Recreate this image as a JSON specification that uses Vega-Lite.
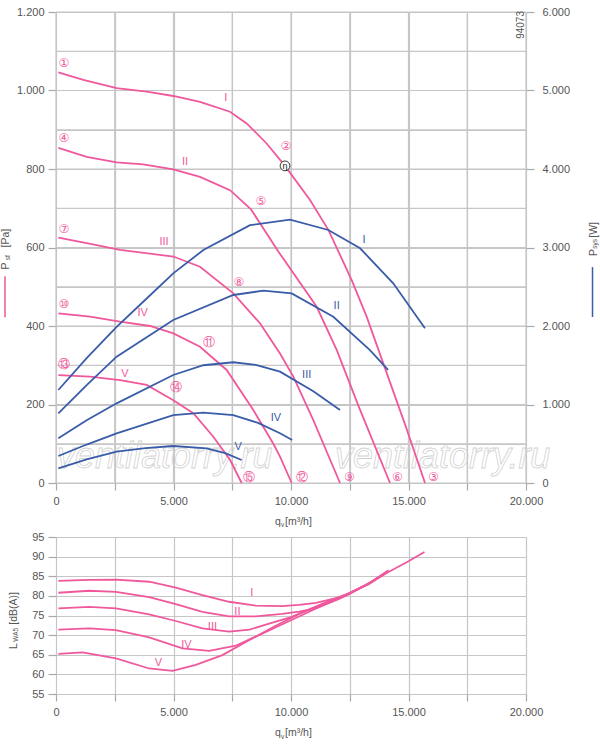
{
  "$schema": "https://vega.github.io/schema/vega-lite/v6.json",
  "background": "white",
  "padding": {"left": 0, "top": 6, "right": 0, "bottom": 0},
  "autosize": {"type": "pad"},
  "bounds": "flush",
  "spacing": 54,
  "config": {
    "view": {"stroke": null},
    "font": "Liberation Sans",
    "axis": {
      "labelFont": "Liberation Sans",
      "labelFontSize": 11,
      "labelColor": "#555555",
      "gridColor": "#c6c6c6",
      "gridWidth": 1.2,
      "tickColor": "#a8a8a8",
      "tickWidth": 1.2,
      "domain": false
    },
    "text": {"font": "Liberation Sans"}
  },
  "datasets": {
    "gridv": [
      {"q": 0, "p": 0, "p2": 1200}, {"q": 2500, "p": 0, "p2": 1200}, {"q": 5000, "p": 0, "p2": 1200},
      {"q": 7500, "p": 0, "p2": 1200}, {"q": 10000, "p": 0, "p2": 1200}, {"q": 12500, "p": 0, "p2": 1200},
      {"q": 15000, "p": 0, "p2": 1200}, {"q": 17500, "p": 0, "p2": 1200}, {"q": 20000, "p": 0, "p2": 1200}
    ],
    "gridh": [
      {"p": 0, "q": 0, "q2": 20000}, {"p": 100, "q": 0, "q2": 20000}, {"p": 200, "q": 0, "q2": 20000},
      {"p": 300, "q": 0, "q2": 20000}, {"p": 400, "q": 0, "q2": 20000}, {"p": 500, "q": 0, "q2": 20000},
      {"p": 600, "q": 0, "q2": 20000}, {"p": 700, "q": 0, "q2": 20000}, {"p": 800, "q": 0, "q2": 20000},
      {"p": 900, "q": 0, "q2": 20000}, {"p": 1000, "q": 0, "q2": 20000}, {"p": 1100, "q": 0, "q2": 20000},
      {"p": 1200, "q": 0, "q2": 20000}
    ],
    "pressure": [
      {"curve": "I", "q": 100, "p": 1046}, {"curve": "I", "q": 1163, "p": 1027}, {"curve": "I", "q": 2582, "p": 1006},
      {"curve": "I", "q": 3858, "p": 997}, {"curve": "I", "q": 4993, "p": 986}, {"curve": "I", "q": 6128, "p": 971},
      {"curve": "I", "q": 7404, "p": 946}, {"curve": "I", "q": 8113, "p": 916}, {"curve": "I", "q": 8964, "p": 865},
      {"curve": "I", "q": 9745, "p": 808}, {"curve": "I", "q": 10809, "p": 721}, {"curve": "I", "q": 11590, "p": 645},
      {"curve": "I", "q": 12582, "p": 517}, {"curve": "I", "q": 13220, "p": 424}, {"curve": "I", "q": 14014, "p": 290},
      {"curve": "I", "q": 14860, "p": 148}, {"curve": "I", "q": 15702, "p": 0},
      {"curve": "II", "q": 100, "p": 854}, {"curve": "II", "q": 1305, "p": 831}, {"curve": "II", "q": 2582, "p": 817},
      {"curve": "II", "q": 3716, "p": 812}, {"curve": "II", "q": 4993, "p": 799}, {"curve": "II", "q": 6128, "p": 780},
      {"curve": "II", "q": 7404, "p": 746}, {"curve": "II", "q": 8300, "p": 697}, {"curve": "II", "q": 9460, "p": 590},
      {"curve": "II", "q": 11093, "p": 449}, {"curve": "II", "q": 11944, "p": 339}, {"curve": "II", "q": 12900, "p": 192},
      {"curve": "II", "q": 14213, "p": 0},
      {"curve": "III", "q": 100, "p": 625}, {"curve": "III", "q": 1305, "p": 611}, {"curve": "III", "q": 2723, "p": 594},
      {"curve": "III", "q": 4993, "p": 577}, {"curve": "III", "q": 6128, "p": 551}, {"curve": "III", "q": 7545, "p": 483},
      {"curve": "III", "q": 8680, "p": 407}, {"curve": "III", "q": 9532, "p": 330}, {"curve": "III", "q": 10099, "p": 271},
      {"curve": "III", "q": 10950, "p": 160}, {"curve": "III", "q": 12085, "p": 0},
      {"curve": "IV", "q": 100, "p": 432}, {"curve": "IV", "q": 1447, "p": 424}, {"curve": "IV", "q": 2723, "p": 411},
      {"curve": "IV", "q": 4000, "p": 400}, {"curve": "IV", "q": 4993, "p": 381}, {"curve": "IV", "q": 6128, "p": 347},
      {"curve": "IV", "q": 7262, "p": 288}, {"curve": "IV", "q": 8397, "p": 186}, {"curve": "IV", "q": 9248, "p": 100},
      {"curve": "IV", "q": 9532, "p": 67}, {"curve": "IV", "q": 10030, "p": 0},
      {"curve": "V", "q": 100, "p": 275}, {"curve": "V", "q": 1447, "p": 271}, {"curve": "V", "q": 2723, "p": 262},
      {"curve": "V", "q": 3858, "p": 250}, {"curve": "V", "q": 4993, "p": 211}, {"curve": "V", "q": 5843, "p": 178},
      {"curve": "V", "q": 6695, "p": 118}, {"curve": "V", "q": 7404, "p": 59}, {"curve": "V", "q": 7900, "p": 0}
    ],
    "power": [
      {"curve": "I", "q": 100, "w": 1185}, {"curve": "I", "q": 1305, "w": 1590}, {"curve": "I", "q": 2580, "w": 1990},
      {"curve": "I", "q": 3858, "w": 2350}, {"curve": "I", "q": 4990, "w": 2671}, {"curve": "I", "q": 6270, "w": 2968},
      {"curve": "I", "q": 8255, "w": 3285}, {"curve": "I", "q": 9960, "w": 3355}, {"curve": "I", "q": 11590, "w": 3223},
      {"curve": "I", "q": 12940, "w": 2990}, {"curve": "I", "q": 14350, "w": 2544}, {"curve": "I", "q": 15700, "w": 1970},
      {"curve": "II", "q": 100, "w": 888}, {"curve": "II", "q": 1305, "w": 1248}, {"curve": "II", "q": 2580, "w": 1609},
      {"curve": "II", "q": 4990, "w": 2076}, {"curve": "II", "q": 7545, "w": 2395}, {"curve": "II", "q": 8820, "w": 2450},
      {"curve": "II", "q": 10030, "w": 2416}, {"curve": "II", "q": 11800, "w": 2118}, {"curve": "II", "q": 13360, "w": 1694},
      {"curve": "II", "q": 14130, "w": 1440},
      {"curve": "III", "q": 100, "w": 569}, {"curve": "III", "q": 1305, "w": 800}, {"curve": "III", "q": 2580, "w": 1015},
      {"curve": "III", "q": 4990, "w": 1376}, {"curve": "III", "q": 6270, "w": 1500}, {"curve": "III", "q": 7545, "w": 1538},
      {"curve": "III", "q": 8500, "w": 1505}, {"curve": "III", "q": 9532, "w": 1418}, {"curve": "III", "q": 10950, "w": 1170},
      {"curve": "III", "q": 12085, "w": 930},
      {"curve": "IV", "q": 100, "w": 344}, {"curve": "IV", "q": 1305, "w": 490}, {"curve": "IV", "q": 2580, "w": 633},
      {"curve": "IV", "q": 4990, "w": 866}, {"curve": "IV", "q": 6270, "w": 896}, {"curve": "IV", "q": 7545, "w": 866},
      {"curve": "IV", "q": 8600, "w": 765}, {"curve": "IV", "q": 9532, "w": 633}, {"curve": "IV", "q": 10050, "w": 548},
      {"curve": "V", "q": 100, "w": 187}, {"curve": "V", "q": 1305, "w": 300}, {"curve": "V", "q": 2580, "w": 399},
      {"curve": "V", "q": 3800, "w": 445}, {"curve": "V", "q": 4990, "w": 471}, {"curve": "V", "q": 6410, "w": 442},
      {"curve": "V", "q": 7200, "w": 380}, {"curve": "V", "q": 7900, "w": 293}
    ],
    "sound": [
      {"curve": "I", "q": 100, "db": 83.8}, {"curve": "I", "q": 1400, "db": 84.1}, {"curve": "I", "q": 2550, "db": 84.15},
      {"curve": "I", "q": 3966, "db": 83.6}, {"curve": "I", "q": 5100, "db": 82.1}, {"curve": "I", "q": 6230, "db": 80.2},
      {"curve": "I", "q": 7365, "db": 78.5}, {"curve": "I", "q": 8500, "db": 77.5}, {"curve": "I", "q": 9630, "db": 77.4},
      {"curve": "I", "q": 10340, "db": 77.7}, {"curve": "I", "q": 11060, "db": 78.2}, {"curve": "I", "q": 12050, "db": 79.6},
      {"curve": "I", "q": 12470, "db": 80.5}, {"curve": "I", "q": 13300, "db": 83.2}, {"curve": "I", "q": 14150, "db": 86.1},
      {"curve": "I", "q": 15000, "db": 88.8}, {"curve": "I", "q": 15680, "db": 91.2},
      {"curve": "II", "q": 100, "db": 80.8}, {"curve": "II", "q": 1416, "db": 81.3}, {"curve": "II", "q": 2550, "db": 81.0},
      {"curve": "II", "q": 3966, "db": 79.7}, {"curve": "II", "q": 5100, "db": 77.9}, {"curve": "II", "q": 6230, "db": 75.9},
      {"curve": "II", "q": 7365, "db": 74.8}, {"curve": "II", "q": 8500, "db": 74.8}, {"curve": "II", "q": 9630, "db": 75.4},
      {"curve": "II", "q": 10340, "db": 76.0}, {"curve": "II", "q": 11060, "db": 76.8}, {"curve": "II", "q": 12050, "db": 79.2},
      {"curve": "II", "q": 12470, "db": 80.4}, {"curve": "II", "q": 13300, "db": 83.1}, {"curve": "II", "q": 14150, "db": 86.5},
      {"curve": "III", "q": 100, "db": 76.8}, {"curve": "III", "q": 1416, "db": 77.2}, {"curve": "III", "q": 2550, "db": 76.8},
      {"curve": "III", "q": 3966, "db": 75.3}, {"curve": "III", "q": 5100, "db": 73.6}, {"curve": "III", "q": 6230, "db": 71.7},
      {"curve": "III", "q": 7365, "db": 70.9}, {"curve": "III", "q": 8235, "db": 71.4}, {"curve": "III", "q": 9000, "db": 72.8},
      {"curve": "III", "q": 10000, "db": 74.6}, {"curve": "III", "q": 11000, "db": 77.0}, {"curve": "III", "q": 12330, "db": 80.3},
      {"curve": "III", "q": 13300, "db": 83.1}, {"curve": "III", "q": 14100, "db": 86.2},
      {"curve": "IV", "q": 100, "db": 71.4}, {"curve": "IV", "q": 1416, "db": 71.7}, {"curve": "IV", "q": 2550, "db": 71.3},
      {"curve": "IV", "q": 3966, "db": 69.4}, {"curve": "IV", "q": 5382, "db": 66.6}, {"curve": "IV", "q": 6516, "db": 66.0},
      {"curve": "IV", "q": 7650, "db": 67.3}, {"curve": "IV", "q": 8235, "db": 68.9}, {"curve": "IV", "q": 9000, "db": 71.0},
      {"curve": "IV", "q": 10000, "db": 73.8}, {"curve": "IV", "q": 11000, "db": 76.6}, {"curve": "IV", "q": 12330, "db": 80.3},
      {"curve": "IV", "q": 13300, "db": 83.0}, {"curve": "IV", "q": 14050, "db": 85.8},
      {"curve": "V", "q": 100, "db": 65.2}, {"curve": "V", "q": 1133, "db": 65.6}, {"curve": "V", "q": 2550, "db": 64.1},
      {"curve": "V", "q": 3966, "db": 61.5}, {"curve": "V", "q": 4958, "db": 60.9}, {"curve": "V", "q": 5950, "db": 62.4},
      {"curve": "V", "q": 7080, "db": 64.9}, {"curve": "V", "q": 8215, "db": 68.7}, {"curve": "V", "q": 9350, "db": 72.4},
      {"curve": "V", "q": 10340, "db": 75.4}, {"curve": "V", "q": 11300, "db": 77.9}, {"curve": "V", "q": 12330, "db": 80.3},
      {"curve": "V", "q": 13300, "db": 83.0}, {"curve": "V", "q": 14050, "db": 85.8}
    ],
    "plab": [
      {"t": "I", "q": 7220, "p": 980}, {"t": "II", "q": 5489, "p": 819}, {"t": "III", "q": 4596, "p": 613},
      {"t": "IV", "q": 3688, "p": 432}, {"t": "V", "q": 2936, "p": 278}
    ],
    "circ": [
      {"t": "①", "q": 340, "p": 1070}, {"t": "②", "q": 9787, "p": 859}, {"t": "③", "q": 16057, "p": 16},
      {"t": "④", "q": 340, "p": 879}, {"t": "⑤", "q": 8723, "p": 719}, {"t": "⑥", "q": 14525, "p": 16},
      {"t": "⑦", "q": 340, "p": 648}, {"t": "⑧", "q": 7787, "p": 512}, {"t": "⑨", "q": 12482, "p": 16},
      {"t": "⑩", "q": 340, "p": 455}, {"t": "⑪", "q": 6511, "p": 358}, {"t": "⑫", "q": 10454, "p": 16},
      {"t": "⑬", "q": 340, "p": 302}, {"t": "⑭", "q": 5106, "p": 244}, {"t": "⑮", "q": 8226, "p": 16}
    ],
    "eta": [{"t": "η", "q": 9745, "p": 808}],
    "wlab": [
      {"t": "I", "q": 13106, "w": 3096}, {"t": "II", "q": 11943, "w": 2259}, {"t": "III", "q": 10667, "w": 1376},
      {"t": "IV", "q": 9362, "w": 824}, {"t": "V", "q": 7757, "w": 462}
    ],
    "slab": [
      {"t": "I", "q": 8329, "db": 80.85}, {"t": "II", "q": 7720, "db": 75.9}, {"t": "III", "q": 6657, "db": 72.1},
      {"t": "IV", "q": 5552, "db": 67.6}, {"t": "V", "q": 4363, "db": 62.8}
    ],
    "watermark": [
      {"t": "ventilatorry.ru", "q": 43, "p": 38}, {"t": "ventilatorry.ru", "q": 11872, "p": 38}
    ],
    "code": [{"t": "94073", "q": 19787, "p": 1167}],
    "toptitles": [
      {"t": "P", "q": -2130, "p": 553}, {"t": "[Pa]", "q": -2130, "p": 624},
      {"t": "P", "q": 22894, "p": 587}, {"t": "[W]", "q": 22894, "p": 645}
    ],
    "topsubs": [
      {"t": "sf", "q": -2040, "p": 574}, {"t": "sys", "q": 22950, "p": 609}
    ],
    "topx": [{"t": "q", "q": 9319, "p": -98.6}, {"t": "[m³/h]", "q": 9745, "p": -98.6}],
    "topxsub": [{"t": "v", "q": 9574, "p": -107}],
    "pinkkey": [{"q": -2170, "p": 527, "p2": 422}],
    "bluekey": [{"q": 22830, "p": 550, "p2": 423}],
    "bottitles": [{"t": "L", "q": -1800, "db": 67.2}, {"t": "[dB(A)]", "q": -1800, "db": 76.8}],
    "botsubs": [{"t": "WA5", "q": -1681, "db": 70.1}],
    "botx": [{"t": "q", "q": 9319, "db": 45.0}, {"t": "[m³/h]", "q": 9745, "db": 45.0}],
    "botxsub": [{"t": "v", "q": 9574, "db": 44.1}]
  },
  "vconcat": [
    {
      "width": 470,
      "height": 471,
      "resolve": {"scale": {"y": "independent"}},
      "encoding": {
        "x": {
          "field": "q", "type": "quantitative", "scale": {"domain": [0, 20000], "nice": false},
          "axis": {
            "values": [0, 2500, 5000, 7500, 10000, 12500, 15000, 17500, 20000],
            "labelExpr": "datum.value % 5000 === 0 ? replace(format(datum.value, ','), ',', '.') : ''",
            "title": null, "grid": true, "tickSize": 7, "labelPadding": 5, "labelOverlap": false, "labelFlush": false
          }
        }
      },
      "layer": [
        {
          "data": {"name": "gridv"},
          "mark": {"type": "rule", "color": "#c6c6c6", "strokeWidth": 1.2},
          "encoding": {
            "y": {"field": "p", "type": "quantitative", "scale": {"domain": [0, 1200], "nice": false}, "axis": null},
            "y2": {"field": "p2"}
          }
        },
        {
          "data": {"name": "gridh"},
          "mark": {"type": "rule", "color": "#c6c6c6", "strokeWidth": 1.2},
          "encoding": {
            "y": {"field": "p", "type": "quantitative", "scale": {"domain": [0, 1200], "nice": false}, "axis": null},
            "x2": {"field": "q2"}
          }
        },
        {
          "data": {"name": "watermark"},
          "mark": {"type": "text", "align": "left", "baseline": "alphabetic", "fontSize": 36, "fontStyle": "italic", "fill": "transparent", "stroke": "#d2d2d2", "strokeWidth": 0.8},
          "encoding": {
            "y": {"field": "p", "type": "quantitative", "scale": {"domain": [0, 1200], "nice": false}, "axis": null},
            "text": {"field": "t"}
          }
        },
        {
          "data": {"name": "pressure"},
          "mark": {"type": "line", "color": "#f0589c", "strokeWidth": 1.8},
          "encoding": {
            "y": {
              "field": "p", "type": "quantitative", "scale": {"domain": [0, 1200], "nice": false},
              "axis": {
                "orient": "left",
                "values": [0, 100, 200, 300, 400, 500, 600, 700, 800, 900, 1000, 1100, 1200],
                "labelExpr": "datum.value % 200 === 0 ? replace(format(datum.value, ','), ',', '.') : ''",
                "tickOpacity": {"condition": {"test": "datum.value % 200 === 0", "value": 1}, "value": 0},
                "title": null, "grid": true, "tickSize": 8, "labelPadding": 4, "labelOverlap": false, "labelFlush": false
              }
            },
            "detail": {"field": "curve"}
          }
        },
        {
          "data": {"name": "power"},
          "mark": {"type": "line", "color": "#3a5ca8", "strokeWidth": 1.8},
          "encoding": {
            "y": {
              "field": "w", "type": "quantitative", "scale": {"domain": [0, 6000], "nice": false},
              "axis": {
                "orient": "right",
                "values": [0, 1000, 2000, 3000, 4000, 5000, 6000],
                "labelExpr": "replace(format(datum.value, ','), ',', '.')",
                "title": null, "grid": false, "tickSize": 8, "labelPadding": 8, "labelOverlap": false, "labelFlush": false
              }
            },
            "detail": {"field": "curve"}
          }
        },
        {
          "data": {"name": "pinkkey"},
          "mark": {"type": "rule", "color": "#f0589c", "strokeWidth": 1.5},
          "encoding": {
            "y": {"field": "p", "type": "quantitative", "scale": {"domain": [0, 1200], "nice": false}, "axis": null},
            "y2": {"field": "p2"}
          }
        },
        {
          "data": {"name": "bluekey"},
          "mark": {"type": "rule", "color": "#3a5ca8", "strokeWidth": 1.5},
          "encoding": {
            "y": {"field": "p", "type": "quantitative", "scale": {"domain": [0, 1200], "nice": false}, "axis": null},
            "y2": {"field": "p2"}
          }
        },
        {
          "data": {"name": "plab"},
          "mark": {"type": "text", "color": "#f0589c", "fontSize": 11, "align": "center", "baseline": "middle"},
          "encoding": {
            "y": {"field": "p", "type": "quantitative", "scale": {"domain": [0, 1200], "nice": false}, "axis": null},
            "text": {"field": "t"}
          }
        },
        {
          "data": {"name": "circ"},
          "mark": {"type": "text", "color": "#f0589c", "fontSize": 12, "font": "DejaVu Sans", "align": "center", "baseline": "middle"},
          "encoding": {
            "y": {"field": "p", "type": "quantitative", "scale": {"domain": [0, 1200], "nice": false}, "axis": null},
            "text": {"field": "t"}
          }
        },
        {
          "data": {"name": "eta"},
          "mark": {"type": "point", "shape": "circle", "size": 95, "filled": true, "fill": "white", "stroke": "#222222", "strokeWidth": 0.9, "opacity": 1},
          "encoding": {
            "y": {"field": "p", "type": "quantitative", "scale": {"domain": [0, 1200], "nice": false}, "axis": null}
          }
        },
        {
          "data": {"name": "eta"},
          "mark": {"type": "text", "color": "#222222", "fontSize": 9, "align": "center", "baseline": "middle"},
          "encoding": {
            "y": {"field": "p", "type": "quantitative", "scale": {"domain": [0, 1200], "nice": false}, "axis": null},
            "text": {"field": "t"}
          }
        },
        {
          "data": {"name": "wlab"},
          "mark": {"type": "text", "color": "#3a5ca8", "fontSize": 11, "align": "center", "baseline": "middle"},
          "encoding": {
            "y": {"field": "w", "type": "quantitative", "scale": {"domain": [0, 6000], "nice": false}, "axis": null},
            "text": {"field": "t"}
          }
        },
        {
          "data": {"name": "code"},
          "mark": {"type": "text", "color": "#555555", "fontSize": 10, "angle": 270, "align": "center", "baseline": "middle"},
          "encoding": {
            "y": {"field": "p", "type": "quantitative", "scale": {"domain": [0, 1200], "nice": false}, "axis": null},
            "text": {"field": "t"}
          }
        },
        {
          "data": {"name": "toptitles"},
          "mark": {"type": "text", "color": "#555555", "fontSize": 10.5, "angle": 270, "align": "center", "baseline": "middle"},
          "encoding": {
            "y": {"field": "p", "type": "quantitative", "scale": {"domain": [0, 1200], "nice": false}, "axis": null},
            "text": {"field": "t"}
          }
        },
        {
          "data": {"name": "topsubs"},
          "mark": {"type": "text", "color": "#555555", "fontSize": 6.5, "angle": 270, "align": "center", "baseline": "middle"},
          "encoding": {
            "y": {"field": "p", "type": "quantitative", "scale": {"domain": [0, 1200], "nice": false}, "axis": null},
            "text": {"field": "t"}
          }
        },
        {
          "data": {"name": "topx"},
          "mark": {"type": "text", "color": "#555555", "fontSize": 10.5, "align": "left", "baseline": "middle"},
          "encoding": {
            "y": {"field": "p", "type": "quantitative", "scale": {"domain": [0, 1200], "nice": false}, "axis": null},
            "text": {"field": "t"}
          }
        },
        {
          "data": {"name": "topxsub"},
          "mark": {"type": "text", "color": "#555555", "fontSize": 6.5, "align": "left", "baseline": "middle"},
          "encoding": {
            "y": {"field": "p", "type": "quantitative", "scale": {"domain": [0, 1200], "nice": false}, "axis": null},
            "text": {"field": "t"}
          }
        }
      ]
    },
    {
      "width": 470,
      "height": 157,
      "encoding": {
        "x": {
          "field": "q", "type": "quantitative", "scale": {"domain": [0, 20000], "nice": false},
          "axis": {
            "values": [0, 2500, 5000, 7500, 10000, 12500, 15000, 17500, 20000],
            "labelExpr": "datum.value % 5000 === 0 ? replace(format(datum.value, ','), ',', '.') : ''",
            "title": null, "grid": true, "tickSize": 7, "labelPadding": 5, "labelOverlap": false, "labelFlush": false
          }
        },
        "y": {
          "field": "db", "type": "quantitative", "scale": {"domain": [55, 95], "nice": false, "zero": false},
          "axis": {
            "values": [55, 60, 65, 70, 75, 80, 85, 90, 95],
            "title": null, "grid": true, "tickSize": 8, "labelPadding": 4, "labelOverlap": false, "labelFlush": false
          }
        }
      },
      "layer": [
        {
          "data": {"name": "sound"},
          "mark": {"type": "line", "color": "#f0589c", "strokeWidth": 1.8},
          "encoding": {"detail": {"field": "curve"}}
        },
        {
          "data": {"name": "slab"},
          "mark": {"type": "text", "color": "#f0589c", "fontSize": 11, "align": "center", "baseline": "middle"},
          "encoding": {"text": {"field": "t"}}
        },
        {
          "data": {"name": "bottitles"},
          "mark": {"type": "text", "color": "#555555", "fontSize": 10.5, "angle": 270, "align": "center", "baseline": "middle"},
          "encoding": {"text": {"field": "t"}}
        },
        {
          "data": {"name": "botsubs"},
          "mark": {"type": "text", "color": "#555555", "fontSize": 6.5, "angle": 270, "align": "center", "baseline": "middle"},
          "encoding": {"text": {"field": "t"}}
        },
        {
          "data": {"name": "botx"},
          "mark": {"type": "text", "color": "#555555", "fontSize": 10.5, "align": "left", "baseline": "middle"},
          "encoding": {"text": {"field": "t"}}
        },
        {
          "data": {"name": "botxsub"},
          "mark": {"type": "text", "color": "#555555", "fontSize": 6.5, "align": "left", "baseline": "middle"},
          "encoding": {"text": {"field": "t"}}
        }
      ]
    }
  ]
}
